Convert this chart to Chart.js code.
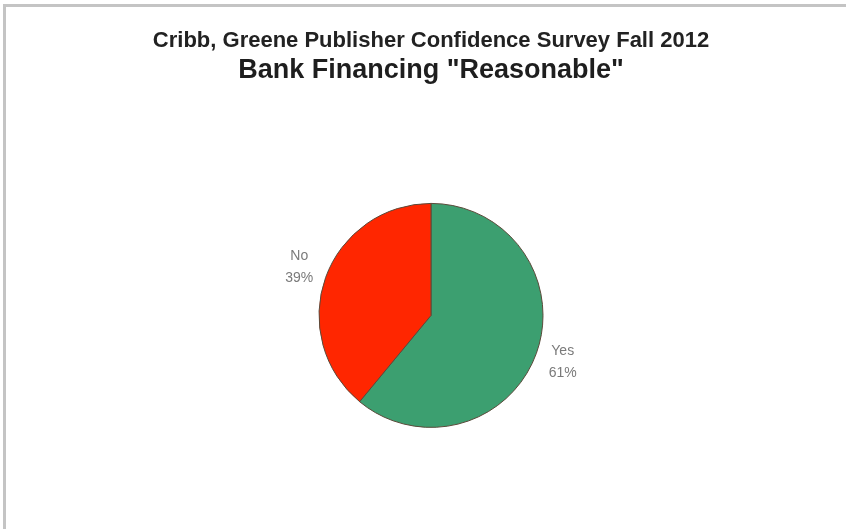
<!DOCTYPE html>
<html lang="en">
<head>
  <meta charset="UTF-8" />
  <title>Bank Financing "Reasonable"</title>
  <script src="https://cdn.jsdelivr.net/npm/chart.js"></script>
  <style>
    html, body {
      margin: 0;
      padding: 0;
      background: #ffffff;
      width: 846px;
      height: 529px;
      overflow: hidden;
    }
    .frame {
      position: absolute;
      left: 3px;
      top: 4px;
      width: 850px;
      height: 540px;
      border-left: 3px solid #c4c4c4;
      border-top: 3px solid #c4c4c4;
    }
    .chart-box {
      position: absolute;
      left: 0;
      top: 0;
      width: 846px;
      height: 529px;
    }
  </style>
</head>
<body>
  <div class="frame"></div>
  <div class="chart-box">
    <canvas id="pieChart"></canvas>
  </div>

  <script>
    const categories = ["Yes", "No"];
    const shares = [61, 39];
    const sliceColors = ["#3c9f70", "#ff2600"];

    // draws "Yes / 61%" style labels just outside each slice
    const outsideLabels = {
      id: "outsideLabels",
      afterDatasetsDraw(chart) {
        const ctx = chart.ctx;
        const meta = chart.getDatasetMeta(0);
        ctx.save();
        ctx.font = "14px 'Liberation Sans', Arial, sans-serif";
        ctx.fillStyle = "#7a7a7a";
        ctx.textAlign = "center";
        ctx.textBaseline = "middle";
        meta.data.forEach((arc, i) => {
          const p = arc.getProps(["x", "y", "startAngle", "endAngle", "outerRadius"], true);
          const mid = (p.startAngle + p.endAngle) / 2;
          const r = p.outerRadius + 28;
          const lx = p.x + Math.cos(mid) * r;
          const ly = p.y + Math.sin(mid) * r;
          ctx.fillText(categories[i], lx, ly - 12);
          ctx.fillText(shares[i] + "%", lx, ly + 10);
        });
        ctx.restore();
      }
    };

    new Chart(document.getElementById("pieChart"), {
      type: "pie",
      data: {
        labels: categories,
        datasets: [{
          data: shares,
          backgroundColor: sliceColors,
          borderColor: "#5a4a3a",
          borderWidth: 1
        }]
      },
      options: {
        responsive: true,
        maintainAspectRatio: false,
        animation: false,
        radius: 112,
        layout: {
          padding: { left: 16, right: 0, top: 0, bottom: 0 }
        },
        plugins: {
          legend: { display: false },
          tooltip: { enabled: false },
          title: {
            display: true,
            text: "Cribb, Greene Publisher Confidence Survey Fall 2012",
            color: "#222222",
            font: { family: "'Liberation Sans', Arial, sans-serif", size: 22, weight: "bold" },
            padding: { top: 28, bottom: 0 }
          },
          subtitle: {
            display: true,
            text: 'Bank Financing "Reasonable"',
            color: "#1e1e1e",
            font: { family: "'Liberation Sans', Arial, sans-serif", size: 27, weight: "bold" },
            padding: { top: 0, bottom: 15 }
          }
        }
      },
      plugins: [outsideLabels]
    });
  </script>
</body>
</html>
